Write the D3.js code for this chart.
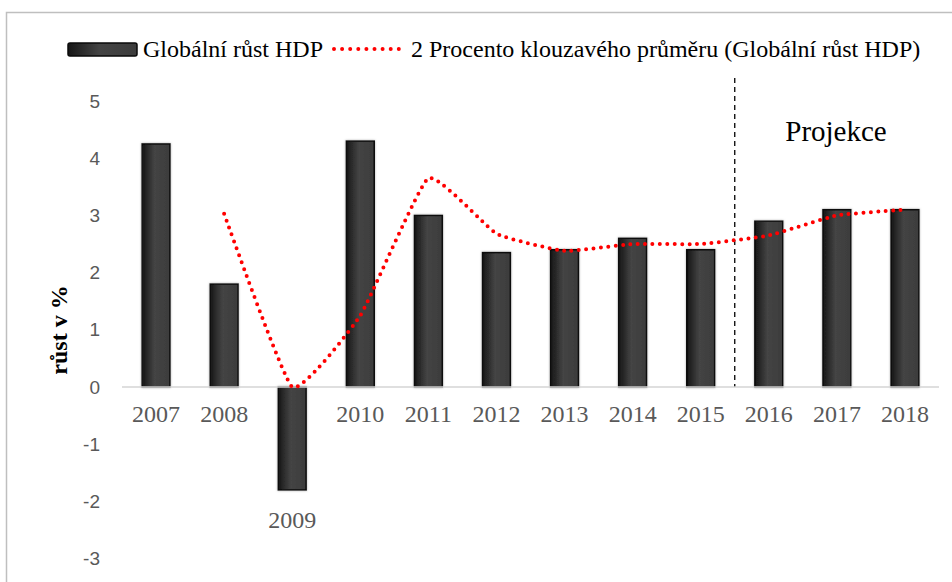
<!DOCTYPE html>
<html>
<head>
<meta charset="utf-8">
<script src="https://cdn.jsdelivr.net/npm/d3@7"></script>
<style>
  body { margin: 0; background: #fff; }
</style>
</head>
<body>
<div id="chart"></div>
<script>
var svgWidth = 952;
var svgHeight = 582;

// data
var years = ["2007", "2008", "2009", "2010", "2011", "2012", "2013", "2014", "2015", "2016", "2017", "2018"];
var growth = [4.25, 1.8, -1.8, 4.3, 3.0, 2.35, 2.4, 2.6, 2.4, 2.9, 3.1, 3.1];
var avgYears = ["2008", "2009", "2010", "2011", "2012", "2013", "2014", "2015", "2016", "2017", "2018"];
var movingAvg = [3.03, 0.0, 1.25, 3.65, 2.68, 2.38, 2.5, 2.5, 2.65, 3.0, 3.1];
var yTicks = [-3, -2, -1, 0, 1, 2, 3, 4, 5];
var barLabel = "Globální růst HDP";
var lineLabel = "2 Procento klouzavého průměru (Globální růst HDP)";

var serif = "'Liberation Serif', 'Times New Roman', serif";

var svg = d3.select("#chart")
  .append("svg")
  .attr("width", svgWidth)
  .attr("height", svgHeight);

var defs = svg.append("defs");

// bar fill: dark edge on the left, lighter toward the middle
var grad = defs.append("linearGradient")
  .attr("id", "barGrad")
  .attr("x1", "0%").attr("x2", "100%")
  .attr("y1", "0%").attr("y2", "0%");
grad.append("stop").attr("offset", "0%").attr("stop-color", "#161616");
grad.append("stop").attr("offset", "45%").attr("stop-color", "#444444");
grad.append("stop").attr("offset", "100%").attr("stop-color", "#3c3c3c");

var shadow = defs.append("filter")
  .attr("id", "barShadow")
  .attr("x", "-30%").attr("y", "-10%")
  .attr("width", "160%").attr("height", "120%");
shadow.append("feDropShadow")
  .attr("dx", 0).attr("dy", 0)
  .attr("stdDeviation", 1.2)
  .attr("flood-color", "#9a9a9a")
  .attr("flood-opacity", 0.8);

// outer frame
svg.append("rect")
  .attr("x", 6.5)
  .attr("y", 12.5)
  .attr("width", 980)
  .attr("height", 620)
  .attr("fill", "none")
  .attr("stroke", "#bfbfbf")
  .attr("stroke-width", 1.5);

// scales
var x = d3.scaleBand()
  .domain(years)
  .range([122, 939])
  .paddingInner(0.59)
  .paddingOuter(0.295);

var y = d3.scaleLinear()
  .domain([-3, 5])
  .range([558.6, 101]);

// y tick labels
svg.append("g")
  .selectAll("text")
  .data(yTicks)
  .enter()
  .append("text")
  .attr("x", 100)
  .attr("y", d => y(d))
  .attr("dy", "0.35em")
  .attr("text-anchor", "end")
  .attr("font-family", "'Liberation Sans', Arial, sans-serif")
  .attr("font-size", 19)
  .attr("fill", "#595959")
  .text(d => d);

// y axis title
svg.append("text")
  .attr("transform", "translate(67, 330) rotate(-90)")
  .attr("text-anchor", "middle")
  .attr("font-family", serif)
  .attr("font-weight", "bold")
  .attr("font-size", 24)
  .attr("fill", "#000")
  .text("růst v %");

// dashed projection divider between 2015 and 2016
var divX = (x("2015") + x.bandwidth() / 2 + x("2016") + x.bandwidth() / 2) / 2;
svg.append("line")
  .attr("x1", divX).attr("x2", divX)
  .attr("y1", 78).attr("y2", y(0))
  .attr("stroke", "#000")
  .attr("stroke-width", 1.3)
  .attr("stroke-dasharray", "5,4");

svg.append("text")
  .attr("x", 836)
  .attr("y", 141)
  .attr("text-anchor", "middle")
  .attr("font-family", serif)
  .attr("font-size", 29)
  .attr("fill", "#000")
  .text("Projekce");

// bars
svg.append("g")
  .selectAll("rect")
  .data(growth)
  .enter()
  .append("rect")
  .attr("x", (d, i) => x(years[i]))
  .attr("y", d => y(Math.max(0, d)))
  .attr("width", x.bandwidth())
  .attr("height", d => Math.abs(y(d) - y(0)))
  .attr("fill", "url(#barGrad)")
  .attr("stroke", "#0a0a0a")
  .attr("stroke-width", 1.5)
  .attr("filter", "url(#barShadow)");

// zero line
svg.append("line")
  .attr("x1", 122).attr("x2", 939)
  .attr("y1", y(0)).attr("y2", y(0))
  .attr("stroke", "#d4d4d4")
  .attr("stroke-width", 1.5);

// category labels (2009 sits below its negative bar)
svg.append("g")
  .selectAll("text")
  .data(years)
  .enter()
  .append("text")
  .attr("x", d => x(d) + x.bandwidth() / 2)
  .attr("y", (d, i) => growth[i] < 0 ? 528 : 422)
  .attr("text-anchor", "middle")
  .attr("font-family", serif)
  .attr("font-size", 24)
  .attr("fill", "#595959")
  .text(d => d);

// moving average line, lightly smoothed
var line = d3.line()
  .x((d, i) => x(avgYears[i]) + x.bandwidth() / 2)
  .y(d => y(d))
  .curve(d3.curveCardinal.tension(0.6));

svg.append("path")
  .datum(movingAvg)
  .attr("d", line)
  .attr("fill", "none")
  .attr("stroke", "#ff0000")
  .attr("stroke-width", 4)
  .attr("stroke-linecap", "round")
  .attr("stroke-dasharray", "0,7.4");

// legend
var legend = svg.append("g");

legend.append("rect")
  .attr("x", 68).attr("y", 43)
  .attr("width", 69).attr("height", 13)
  .attr("rx", 2)
  .attr("fill", "url(#barGrad)")
  .attr("stroke", "#0a0a0a")
  .attr("stroke-width", 1.5);

legend.append("text")
  .attr("x", 143)
  .attr("y", 57)
  .attr("font-family", serif)
  .attr("font-size", 24)
  .attr("fill", "#000")
  .text(barLabel);

legend.append("line")
  .attr("x1", 334).attr("x2", 399)
  .attr("y1", 49).attr("y2", 49)
  .attr("stroke", "#ff0000")
  .attr("stroke-width", 4)
  .attr("stroke-linecap", "round")
  .attr("stroke-dasharray", "0,8.1");

legend.append("text")
  .attr("x", 411)
  .attr("y", 57)
  .attr("font-family", serif)
  .attr("font-size", 24)
  .attr("fill", "#000")
  .text(lineLabel);
</script>
</body>
</html>
